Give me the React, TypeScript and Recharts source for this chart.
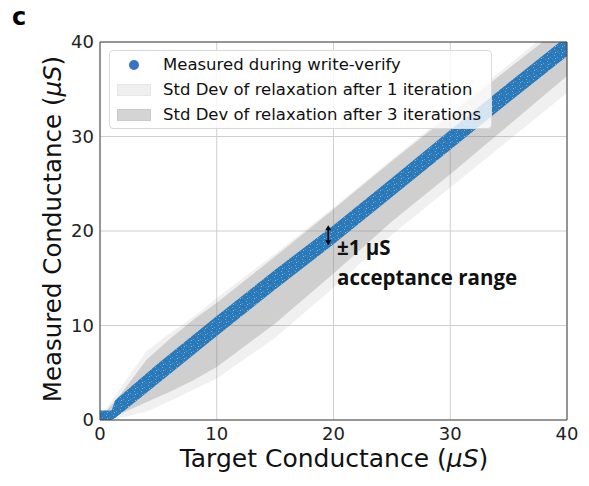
import React from 'react';
import {
  ComposedChart,
  Area,
  XAxis,
  YAxis,
  CartesianGrid,
  ReferenceLine,
} from 'recharts';

// target conductance samples (uS) for the std-dev envelopes
const targetX = [0, 1, 2, 4, 6, 8, 10, 15, 20, 25, 30, 35, 40];
const iter1Lower = [0, 0.1, 0.3, 0.9, 2.0, 3.2, 4.4, 8.7, 14.0, 19.6, 24.6, 29.6, 34.6];
const iter1Upper = [0.3, 2.0, 3.8, 7.3, 9.2, 10.9, 12.9, 17.6, 22.5, 27.6, 32.6, 37.6, 42.6];
const iter3Lower = [0, 0.3, 0.8, 1.9, 3.0, 4.2, 5.6, 10.2, 15.5, 21.0, 26.0, 31.2, 36.4];
const iter3Upper = [0.2, 1.6, 3.1, 6.4, 8.6, 10.6, 12.4, 17.3, 22.3, 27.4, 32.3, 37.2, 42.0];

// write-verify measurement cloud, read as its lower / upper edge
const measuredX = [0, 1.0, 1.3, 5, 10, 15, 20, 25, 30, 35, 40];
const measuredLower = [0, 0, 0.2, 3.9, 8.9, 13.8, 18.6, 23.6, 28.6, 33.6, 38.5];
const measuredUpper = [1.0, 1.0, 2.1, 6.0, 11.0, 15.9, 20.6, 25.6, 30.7, 35.7, 40.6];

const axisTicks = [0, 10, 20, 30, 40];

const legendItems = [
  { label: 'Measured during write-verify', kind: 'dot' },
  { label: 'Std Dev of relaxation after 1 iteration', kind: 'light' },
  { label: 'Std Dev of relaxation after 3 iterations', kind: 'dark' },
];

const iter1Data = targetX.map((x, i) => ({ x, lo: iter1Lower[i], hi: iter1Upper[i] }));
const iter3Data = targetX.map((x, i) => ({ x, lo: iter3Lower[i], hi: iter3Upper[i] }));
const measuredData = measuredX.map((x, i) => ({ x, lo: measuredLower[i], hi: measuredUpper[i] }));

const FONT = '"DejaVu Sans", sans-serif';
const NOTE_FONT = '"Open Sans", sans-serif';

const rangeKey = (d: { lo: number; hi: number }) => [d.lo, d.hi];

const DoubleArrow = (props: any) => {
  const { x1, y1, x2, y2 } = props;
  const top = Math.min(y1, y2);
  const bot = Math.max(y1, y2);
  return (
    <g>
      <line x1={x1} y1={top + 3} x2={x2} y2={bot - 3} stroke="#000" strokeWidth={1.5} />
      <path d={`M${x1 - 3},${top + 5} L${x1},${top} L${x1 + 3},${top + 5} Z`} fill="#000" />
      <path d={`M${x1 - 3},${bot - 5} L${x1},${bot} L${x1 + 3},${bot - 5} Z`} fill="#000" />
    </g>
  );
};

const App = () => {
  return (
    <div style={{ position: 'absolute', left: 0, top: 0, width: 589, height: 486, background: '#fff' }}>
      <ComposedChart width={589} height={486} margin={{ top: 42, right: 22, bottom: 0, left: 0 }}>
        <defs>
          {/* speckle so the dense scatter cloud reads like dots, not a ribbon */}
          <pattern id="speckle" width="7" height="6" patternUnits="userSpaceOnUse">
            <rect width="7" height="6" fill="#2a79b9" />
            <rect x="1" y="1" width="1" height="1" fill="#6fa5d2" />
            <rect x="4" y="3" width="1" height="1" fill="#5e9bcc" />
            <rect x="5" y="0" width="1" height="1" fill="#1f6fae" />
            <rect x="2" y="4" width="1" height="1" fill="#86b4da" />
            <rect x="6" y="5" width="1" height="1" fill="#4b8ec6" />
          </pattern>
        </defs>
        <CartesianGrid stroke="#cfcfcf" strokeWidth={1} />
        <XAxis
          type="number"
          dataKey="x"
          domain={[0, 40]}
          ticks={axisTicks}
          allowDataOverflow
          height={66}
          tickLine={false}
          tickSize={0}
          tickMargin={7}
          axisLine={{ stroke: '#444', strokeWidth: 1 }}
          tick={{ fill: '#222', fontSize: 18, fontFamily: FONT }}
        />
        <YAxis
          type="number"
          domain={[0, 40]}
          ticks={axisTicks}
          allowDataOverflow
          width={100}
          tickLine={false}
          tickSize={0}
          tickMargin={6}
          axisLine={{ stroke: '#444', strokeWidth: 1 }}
          tick={{ fill: '#222', fontSize: 18, fontFamily: FONT }}
        />
        <Area
          data={iter1Data}
          dataKey={rangeKey}
          type="linear"
          stroke="none"
          fill="#808080"
          fillOpacity={0.12}
          isAnimationActive={false}
        />
        <Area
          data={iter3Data}
          dataKey={rangeKey}
          type="linear"
          stroke="none"
          fill="#808080"
          fillOpacity={0.29}
          isAnimationActive={false}
        />
        <Area
          data={measuredData}
          dataKey={rangeKey}
          type="linear"
          stroke="none"
          fill="url(#speckle)"
          fillOpacity={1}
          isAnimationActive={false}
        />
        <ReferenceLine
          segment={[{ x: 19.55, y: 18.5 }, { x: 19.55, y: 20.6 }]}
          shape={DoubleArrow}
        />
        <ReferenceLine y={40} stroke="#444" strokeWidth={1} />
        <ReferenceLine x={40} stroke="#444" strokeWidth={1} />
      </ComposedChart>

      <svg
        width={589}
        height={486}
        style={{ position: 'absolute', left: 0, top: 0, pointerEvents: 'none' }}
      >
        <text x={12} y={25} fontFamily={FONT} fontWeight="bold" fontSize={24} fill="#000">
          c
        </text>
        <text x={334} y={467} textAnchor="middle" fontFamily={FONT} fontSize={25} fill="#111">
          Target Conductance (<tspan fontStyle="italic">μS</tspan>)
        </text>
        <text
          x={61}
          y={229}
          textAnchor="middle"
          transform="rotate(-90 61 229)"
          fontFamily={FONT}
          fontSize={24.5}
          fill="#111"
        >
          Measured Conductance (<tspan fontStyle="italic">μS</tspan>)
        </text>
        <text x={337} y={255} fontFamily={NOTE_FONT} fontWeight="bold" fontSize={20.5} fill="#111">
          ±1 µS
        </text>
        <text x={337} y={285} fontFamily={NOTE_FONT} fontWeight="bold" fontSize={20.5} fill="#111">
          acceptance range
        </text>
      </svg>

      <div
        style={{
          position: 'absolute',
          left: 109,
          top: 50,
          width: 383,
          height: 79,
          boxSizing: 'border-box',
          background: 'rgba(255,255,255,0.8)',
          border: '1px solid #d9d9d9',
          borderRadius: 4,
          fontFamily: FONT,
          fontSize: 16.5,
          color: '#111',
          paddingTop: 1,
        }}
      >
        {legendItems.map((item) => (
          <div key={item.label} style={{ display: 'flex', alignItems: 'center', height: 25 }}>
            <div style={{ width: 47, display: 'flex', justifyContent: 'center' }}>
              {item.kind === 'dot' ? (
                <div style={{ width: 10, height: 10, borderRadius: '50%', background: '#3a72c4' }} />
              ) : (
                <div
                  style={{
                    width: 34,
                    height: 12,
                    background: item.kind === 'light' ? '#efefef' : '#d4d4d4',
                    border: '1px solid ' + (item.kind === 'light' ? '#e6e6e6' : '#cacaca'),
                    boxSizing: 'border-box',
                  }}
                />
              )}
            </div>
            <span style={{ whiteSpace: 'nowrap', marginLeft: 6 }}>{item.label}</span>
          </div>
        ))}
      </div>
    </div>
  );
};

export default App;
